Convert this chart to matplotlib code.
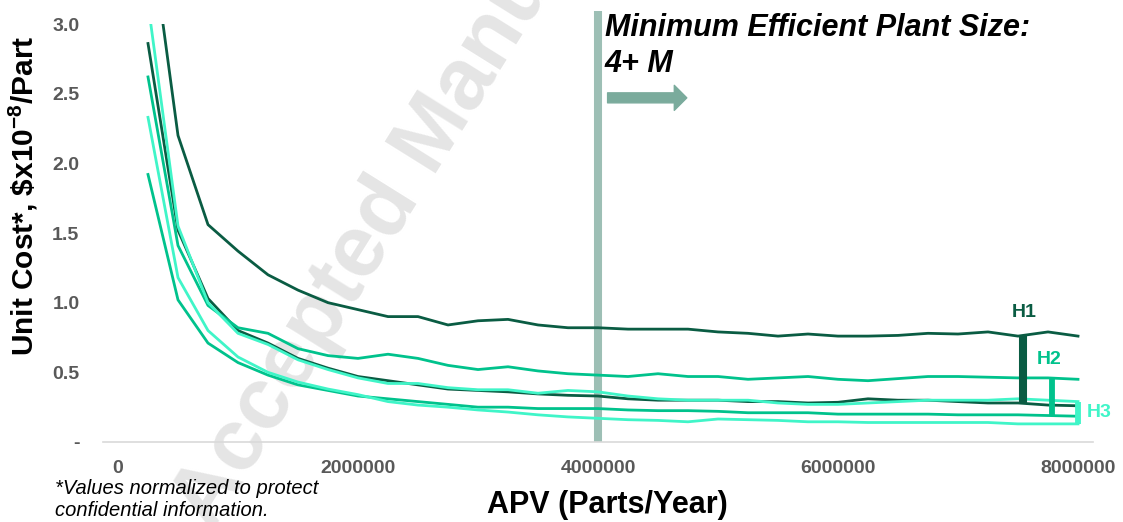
import matplotlib
matplotlib.use("Agg")
import matplotlib.pyplot as plt
import numpy as np

plt.rcParams['font.family'] = ['Liberation Sans', 'DejaVu Sans']
plt.rcParams['mathtext.fontset'] = 'custom'
plt.rcParams['mathtext.rm'] = 'Liberation Sans'
plt.rcParams['mathtext.bf'] = 'Liberation Sans:bold'

# annual production volume, parts/year
apv = [250000, 500000, 750000, 1000000, 1250000, 1500000, 1750000, 2000000,
       2250000, 2500000, 2750000, 3000000, 3250000, 3500000, 3750000, 4000000,
       4250000, 4500000, 4750000, 5000000, 5250000, 5500000, 5750000, 6000000,
       6250000, 6500000, 6750000, 7000000, 7250000, 7500000, 7750000, 8000000]

# unit cost bounds (upper / lower) for each hardware case
h1_high = [3.80, 2.20, 1.56, 1.37, 1.20, 1.09, 1.00, 0.95, 0.90, 0.90, 0.84,
           0.87, 0.88, 0.84, 0.82, 0.82, 0.81, 0.81, 0.81, 0.79, 0.78, 0.76,
           0.775, 0.76, 0.76, 0.765, 0.78, 0.775, 0.79, 0.76, 0.79, 0.76]
h1_low = [2.86, 1.52, 1.03, 0.80, 0.71, 0.60, 0.53, 0.47, 0.44, 0.41, 0.38,
          0.37, 0.36, 0.345, 0.335, 0.33, 0.31, 0.30, 0.30, 0.30, 0.29, 0.29,
          0.28, 0.285, 0.31, 0.30, 0.30, 0.29, 0.28, 0.28, 0.265, 0.26]
h2_high = [2.62, 1.41, 0.98, 0.82, 0.78, 0.67, 0.62, 0.60, 0.63, 0.60, 0.55,
           0.52, 0.54, 0.51, 0.49, 0.48, 0.47, 0.49, 0.47, 0.47, 0.45, 0.46,
           0.47, 0.45, 0.44, 0.455, 0.47, 0.47, 0.465, 0.46, 0.46, 0.45]
h2_low = [1.92, 1.02, 0.71, 0.57, 0.48, 0.41, 0.37, 0.33, 0.31, 0.29, 0.27,
          0.25, 0.25, 0.24, 0.24, 0.24, 0.23, 0.225, 0.225, 0.22, 0.21, 0.21,
          0.21, 0.20, 0.20, 0.20, 0.20, 0.195, 0.195, 0.195, 0.19, 0.185]
h3_high = [3.15, 1.55, 1.00, 0.78, 0.70, 0.59, 0.52, 0.46, 0.42, 0.42, 0.39,
           0.375, 0.375, 0.35, 0.37, 0.36, 0.33, 0.31, 0.30, 0.30, 0.30, 0.28,
           0.27, 0.27, 0.28, 0.29, 0.30, 0.30, 0.30, 0.31, 0.30, 0.29]
h3_low = [2.33, 1.18, 0.80, 0.61, 0.50, 0.43, 0.38, 0.34, 0.29, 0.265, 0.25,
          0.23, 0.215, 0.195, 0.18, 0.17, 0.16, 0.155, 0.145, 0.165, 0.16,
          0.155, 0.145, 0.145, 0.14, 0.14, 0.14, 0.14, 0.14, 0.13, 0.13, 0.13]

cases = ['H1', 'H2', 'H3']
case_colors = ['#0a5c43', '#00c28c', '#40f5c8']
bar_apv = [7540000, 7780000, 8000000]
bar_widths = [5.8, 4.2, 4.2]
label_pos = [(7550000, 0.93), (7760000, 0.59), (8180000, 0.215)]

mes_apv = 4000000
xticks = [0, 2000000, 4000000, 6000000, 8000000]
yticks = [0, 0.5, 1.0, 1.5, 2.0, 2.5, 3.0]

W, H = 1123, 522
fig = plt.figure(figsize=(W / 100, H / 100), dpi=100)
ax = fig.add_axes([103 / W, 80 / H, 990 / W, 418 / H])
ax.patch.set_alpha(0)

# faint watermark behind the curves
ax.text(212 / W, 1 - 532 / H, 'Accepted Manuscript', transform=fig.transFigure,
        fontsize=63, fontweight='bold', color='#e5e5e5', rotation=58,
        rotation_mode='anchor', ha='left', va='baseline', zorder=0.5,
        clip_on=False)

series = [(h1_high, h1_low), (h2_high, h2_low), (h3_high, h3_low)]
for (hi, lo), c in zip(series, case_colors):
    ax.plot(apv, hi, color=c, lw=2.0, zorder=2)
    ax.plot(apv, lo, color=c, lw=2.0, zorder=2)

# range bars between upper and lower bound of each case
for (hi, lo), c, bx, bw, name, (lx, ly) in zip(series, case_colors, bar_apv,
                                              bar_widths, cases, label_pos):
    top = np.interp(bx, apv, hi)
    bot = np.interp(bx, apv, lo)
    ax.plot([bx, bx], [bot, top], color=c, lw=bw, solid_capstyle='butt',
            zorder=3, clip_on=False)
    ax.text(lx, ly, name, color=c, fontsize=14, fontweight='bold',
            ha='center', va='center', clip_on=False)

# minimum efficient plant size marker
ax.plot([mes_apv, mes_apv], [0, 3.093], color='#9dbfb5', lw=5.8,
        solid_capstyle='butt', zorder=1.5, clip_on=False)
ax.annotate('', xy=(4740000, 2.47), xytext=(4080000, 2.47),
            arrowprops=dict(arrowstyle='simple,head_length=0.45,head_width=0.9,tail_width=0.36',
                            color='#7aab9c', mutation_scale=20,
                            shrinkA=0, shrinkB=0))
fig.text(605 / W, 1 - 13 / H, 'Minimum Efficient Plant Size:\n4+ M',
         fontsize=22, fontweight='bold', fontstyle='italic', ha='left',
         va='top', linespacing=1.28)

ax.set_xlim(-125000, 8125000)
ax.set_ylim(0, 3.0)
ax.set_xticks(xticks)
ax.set_xticklabels([str(v) for v in xticks])
ax.set_yticks(yticks)
ax.set_yticklabels(['-' if v == 0 else '%.1f' % v for v in yticks])
for s in ['top', 'right', 'left']:
    ax.spines[s].set_visible(False)
ax.spines['bottom'].set_color('#d9d9d9')
ax.spines['bottom'].set_linewidth(1.2)
ax.tick_params(axis='both', length=0, labelsize=14, labelcolor='#595959')
ax.tick_params(axis='x', pad=13)
ax.tick_params(axis='y', pad=17)
for lbl in ax.get_xticklabels() + ax.get_yticklabels():
    lbl.set_fontweight('bold')

fig.text(23 / W, 1 - 196 / H, r'Unit Cost*, \$x10$^{\mathbf{-8}}$/Part',
         rotation=90, ha='center', va='center', fontsize=21.5,
         fontweight='bold')
fig.text(607 / W, 1 - 505 / H, 'APV (Parts/Year)', ha='center', va='center',
         fontsize=22, fontweight='bold')
fig.text(55 / W, 1 - 479 / H,
         '*Values normalized to protect\nconfidential information.',
         ha='left', va='top', fontsize=14.5, fontstyle='italic',
         linespacing=1.2)

fig.savefig('out.png', dpi=100)
